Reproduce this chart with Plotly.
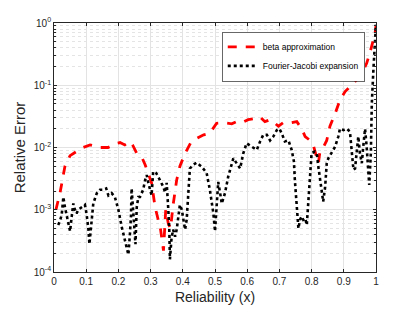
import plotly.graph_objects as go

beta_x = [0.006, 0.019, 0.034, 0.05, 0.065, 0.09, 0.112, 0.143, 0.168, 0.195, 0.205, 0.22, 0.236, 0.244,
          0.257, 0.272, 0.283, 0.293, 0.303, 0.314, 0.324, 0.331, 0.34, 0.347, 0.355, 0.362, 0.37, 0.381,
          0.391, 0.407, 0.425, 0.443, 0.465, 0.484, 0.505, 0.526, 0.552, 0.567, 0.583, 0.603, 0.619, 0.64,
          0.655, 0.671, 0.686, 0.697, 0.712, 0.728, 0.754, 0.769, 0.78, 0.795, 0.805, 0.816, 0.821, 0.826,
          0.836, 0.847, 0.857, 0.873, 0.888, 0.904, 0.924, 0.945, 0.956, 0.971, 0.981, 0.992, 0.997, 1.0]
beta_y = [1.0e-3, 1.9e-3, 5.0e-3, 7.4e-3, 8.3e-3, 1.0e-2, 1.1e-2, 1.0e-2, 1.0e-2, 1.17e-2, 1.2e-2, 1.1e-2, 1.25e-2, 1.1e-2,
          8.1e-3, 7.1e-3, 5.3e-3, 3.9e-3, 2.7e-3, 1.1e-3, 7.0e-4, 4.8e-4, 2.2e-4, 1.0e-3, 6.0e-4, 5.0e-4, 1.2e-3, 3.0e-3,
          5.0e-3, 8.0e-3, 1.2e-2, 1.4e-2, 1.6e-2, 1.7e-2, 2.45e-2, 2.5e-2, 2.4e-2, 2.6e-2, 2.5e-2, 2.8e-2, 2.9e-2, 3.1e-2,
          2.6e-2, 2.8e-2, 2.45e-2, 2.2e-2, 2.5e-2, 2.45e-2, 2.6e-2, 2.0e-2, 1.5e-2, 1.3e-2, 1.1e-2, 7.1e-3, 5.6e-3, 8.6e-3,
          1.0e-2, 1.3e-2, 2.2e-2, 3.5e-2, 5.8e-2, 7.9e-2, 0.1, 0.13, 0.156, 0.225, 0.33, 0.53, 0.68, 0.9]

fj_x = [0.013, 0.018, 0.024, 0.029, 0.034, 0.04, 0.045, 0.05, 0.055, 0.06, 0.065, 0.07, 0.075, 0.086, 0.096,
        0.101, 0.107, 0.11, 0.117, 0.122, 0.133, 0.143, 0.153, 0.162, 0.169, 0.179, 0.189, 0.2, 0.21, 0.22,
        0.231, 0.236, 0.239, 0.241, 0.245, 0.25, 0.253, 0.257, 0.262, 0.267, 0.277, 0.283, 0.288, 0.293, 0.298,
        0.303, 0.308, 0.317, 0.329, 0.34, 0.345, 0.35, 0.355, 0.358, 0.36, 0.365, 0.37, 0.376, 0.381, 0.386,
        0.391, 0.397, 0.402, 0.407, 0.412, 0.417, 0.422, 0.433, 0.443, 0.459, 0.474, 0.484, 0.49, 0.495, 0.5,
        0.505, 0.51, 0.516, 0.521, 0.531, 0.541, 0.557, 0.567, 0.578, 0.588, 0.598, 0.614, 0.63, 0.64, 0.65,
        0.661, 0.671, 0.681, 0.692, 0.7, 0.707, 0.717, 0.728, 0.738, 0.745, 0.748, 0.754, 0.759, 0.764, 0.769,
        0.774, 0.78, 0.785, 0.79, 0.795, 0.8, 0.81, 0.816, 0.821, 0.831, 0.836, 0.842, 0.847, 0.852, 0.862,
        0.873, 0.883, 0.888, 0.899, 0.909, 0.919, 0.925, 0.93, 0.935, 0.945, 0.95, 0.956, 0.96, 0.966, 0.971,
        0.976, 0.979, 0.984, 0.987, 0.992, 0.997, 1.0]
fj_y = [5.7e-4, 6.5e-4, 8.3e-4, 1.6e-3, 1.1e-3, 7.5e-4, 6.0e-4, 4.5e-4, 7.8e-4, 1.26e-3, 1.0e-3, 8.7e-4, 1.0e-3, 1.1e-3, 1.2e-3,
        8.7e-4, 4.8e-4, 2.8e-4, 6.0e-4, 1.26e-3, 1.85e-3, 2.1e-3, 2.1e-3, 2.2e-3, 1.7e-3, 1.85e-3, 1.6e-3, 1.0e-3, 5.4e-4, 3.1e-4,
        1.9e-4, 4.2e-4, 7.8e-4, 2.2e-3, 1.2e-3, 5.0e-4, 2.8e-4, 1.1e-3, 1.6e-3, 1.6e-3, 2.1e-3, 3.0e-3, 3.6e-3, 2.7e-3, 2.1e-3,
        1.7e-3, 4.1e-3, 3.9e-3, 3.0e-3, 2.3e-3, 1.9e-3, 2.7e-3, 1.0e-3, 4.8e-4, 1.6e-4, 3.5e-4, 4.8e-4, 3.7e-4, 4.8e-4, 8.7e-4,
        1.2e-3, 1.0e-3, 6.9e-4, 4.8e-4, 6.9e-4, 2.3e-3, 4.6e-3, 5.3e-3, 5.7e-3, 4.9e-3, 3.9e-3, 2.1e-3, 1.4e-3, 8.7e-4, 4.5e-4,
        1.4e-3, 2.8e-3, 1.85e-3, 1.26e-3, 1.85e-3, 3.4e-3, 6.7e-3, 5.6e-3, 4.6e-3, 8.1e-3, 1.17e-2, 1.03e-2, 9.2e-3, 1.25e-2, 1.6e-2,
        1.6e-2, 1.3e-2, 1.5e-2, 1.9e-2, 2.0e-2, 1.7e-2, 1.25e-2, 1.3e-2, 9.2e-3, 6.0e-3, 3.0e-3, 1.1e-3, 5.0e-4, 6.9e-4, 7.8e-4,
        6.9e-4, 7.3e-4, 5.7e-4, 1.26e-3, 3.9e-3, 8.1e-3, 8.6e-3, 8.1e-3, 4.9e-3, 2.3e-3, 1.35e-3, 2.3e-3, 5.6e-3, 6.7e-3, 8.1e-3,
        1.03e-2, 1.5e-2, 2.0e-2, 1.9e-2, 2.0e-2, 1.8e-2, 8.1e-3, 4.4e-3, 4.6e-3, 1.5e-2, 8.1e-3, 5.6e-3, 9.8e-3, 2.0e-2, 1.03e-2,
        4.4e-3, 2.5e-3, 8.1e-3, 5.1e-2, 0.18, 0.54, 0.95]

x_ticks = [0, 0.1, 0.2, 0.3, 0.4, 0.5, 0.6, 0.7, 0.8, 0.9, 1]
x_tick_labels = ["0", "0.1", "0.2", "0.3", "0.4", "0.5", "0.6", "0.7", "0.8", "0.9", "1"]
y_ticks = [1e-4, 1e-3, 1e-2, 1e-1, 1]
y_tick_labels = ["10<sup>-4</sup>", "10<sup>-3</sup>", "10<sup>-2</sup>", "10<sup>-1</sup>", "10<sup>0</sup>"]

fig = go.Figure()
fig.add_trace(go.Scatter(x=beta_x, y=beta_y, mode="lines", name="beta approximation",
                         line=dict(color="#ff0000", width=2.8, dash="dash")))
fig.add_trace(go.Scatter(x=fj_x, y=fj_y, mode="lines", name="Fourier-Jacobi expansion",
                         line=dict(color="#000000", width=2.6, dash="dot")))

axis_col = "#262626"
# page body adds an 8px offset, so the figure is sized to fit the 415x312 window
fig.update_layout(
    width=407, height=304,
    margin=dict(l=46, r=39, t=15, b=40),
    paper_bgcolor="white", plot_bgcolor="white",
    font=dict(family="Liberation Sans, Arial, sans-serif", color=axis_col),
    showlegend=True,
    legend=dict(x=0.966, y=0.965, xanchor="right", yanchor="top",
                bgcolor="white", bordercolor="#262626", borderwidth=0.7,
                font=dict(size=8.5, color="#000000"),
                tracegroupgap=0, itemwidth=30),
)
fig.update_xaxes(
    range=[0, 1], tickvals=x_ticks, ticktext=x_tick_labels, automargin=False,
    showline=True, linecolor=axis_col, linewidth=0.8, mirror="ticks",
    ticks="inside", ticklen=3, tickcolor=axis_col,
    showgrid=True, gridcolor="#e3e3e3", gridwidth=0.8,
    zeroline=False, tickfont=dict(size=10, color=axis_col),
    title=dict(text="Reliability (x)", font=dict(size=14, color=axis_col), standoff=6),
)
fig.update_yaxes(
    type="log", range=[-4, 0], tickvals=y_ticks, ticktext=y_tick_labels, automargin=False,
    showline=True, linecolor=axis_col, linewidth=0.8, mirror="ticks",
    ticks="inside", ticklen=3, tickcolor=axis_col,
    showgrid=True, gridcolor="#e3e3e3", gridwidth=0.8,
    minor=dict(showgrid=True, gridcolor="#e4e4e4", griddash="dot", gridwidth=0.8,
               ticks="inside", ticklen=2, tickcolor=axis_col, dtick="D1"),
    zeroline=False, tickfont=dict(size=10, color=axis_col),
    title=dict(text="Relative Error", font=dict(size=15, color=axis_col), standoff=4),
)
fig.write_html("out.html")
